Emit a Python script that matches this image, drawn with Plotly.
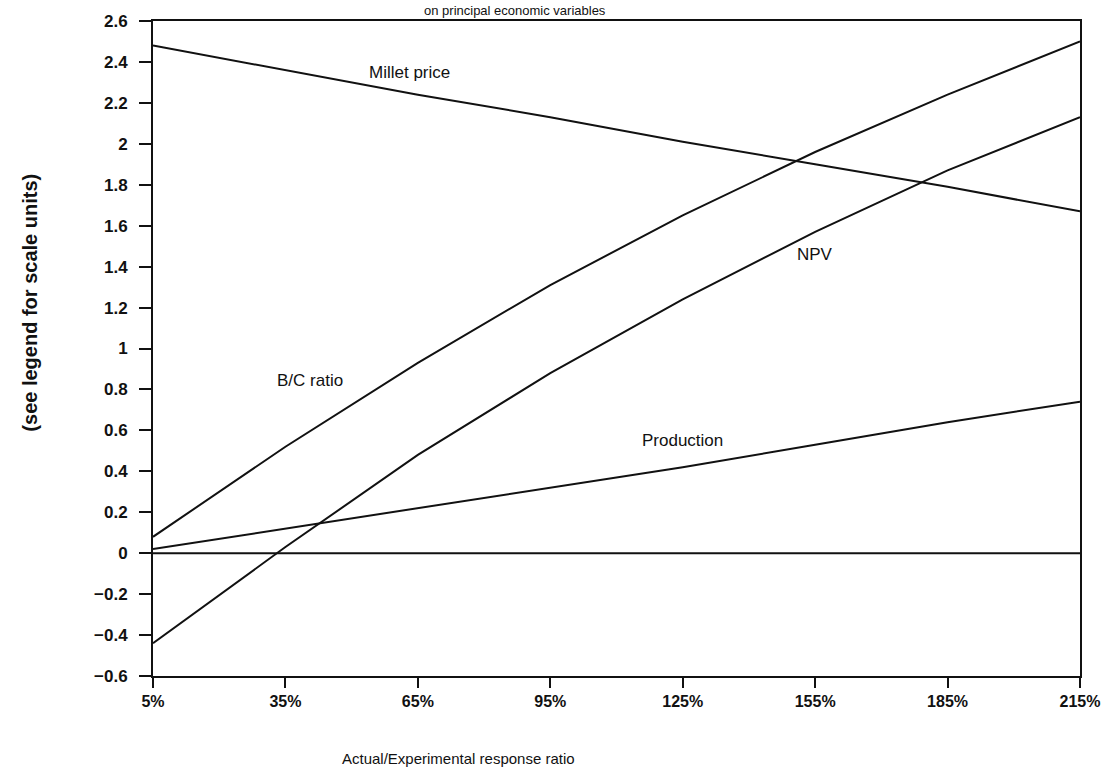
import plotly.graph_objects as go

# Response ratio (Actual/Experimental), in percent
ratio_pct = [5, 35, 65, 95, 125, 155, 185, 215]
ratio_labels = ["5%", "35%", "65%", "95%", "125%", "155%", "185%", "215%"]

# Principal economic variables (see legend for scale units)
millet_price = [2.48, 2.36, 2.24, 2.13, 2.01, 1.90, 1.79, 1.67]
bc_ratio = [0.08, 0.52, 0.93, 1.31, 1.65, 1.96, 2.24, 2.50]
npv = [-0.44, 0.03, 0.48, 0.88, 1.24, 1.57, 1.87, 2.13]
production = [0.02, 0.12, 0.22, 0.32, 0.42, 0.53, 0.64, 0.74]

y_ticks = [2.6, 2.4, 2.2, 2.0, 1.8, 1.6, 1.4, 1.2, 1.0, 0.8, 0.6, 0.4, 0.2,
           0.0, -0.2, -0.4, -0.6]
y_tick_labels = ["2.6", "2.4", "2.2", "2", "1.8", "1.6", "1.4", "1.2", "1",
                 "0.8", "0.6", "0.4", "0.2", "0", "\u22120.2", "\u22120.4",
                 "\u22120.6"]

# Curve labels: (text, x, y)
curve_labels = [
    ("Millet price", 63, 2.35),
    ("B/C ratio", 40.5, 0.845),
    ("NPV", 155, 1.46),
    ("Production", 125, 0.55),
]

FONT = "Liberation Sans"
INK = "#111111"

fig = go.Figure()

for series in (millet_price, bc_ratio, npv, production):
    fig.add_trace(go.Scatter(
        x=ratio_pct, y=series, mode="lines",
        line=dict(color=INK, width=2), showlegend=False, hoverinfo="skip",
    ))

# Zero reference line across the plot
fig.add_trace(go.Scatter(
    x=[ratio_pct[0], ratio_pct[-1]], y=[0, 0], mode="lines",
    line=dict(color=INK, width=2), showlegend=False, hoverinfo="skip",
))

for text, x, y in curve_labels:
    fig.add_annotation(
        x=x, y=y, text=text, showarrow=False,
        font=dict(family=FONT, size=17, color=INK),
    )

# Title, squeezed into the strip above the frame
fig.add_annotation(
    xref="paper", yref="paper", x=0.39, y=1.0, xanchor="center",
    yanchor="bottom", yshift=2, borderpad=0,
    text="on principal economic variables", showarrow=False,
    font=dict(family=FONT, size=13, color=INK),
)

# Axis titles
fig.add_annotation(
    xref="paper", yref="paper", x=0.33, y=0, xanchor="center",
    yanchor="top", yshift=-72,
    text="Actual/Experimental response ratio", showarrow=False,
    font=dict(family=FONT, size=15, color=INK),
)
fig.add_annotation(
    xref="paper", yref="paper", x=0, y=0.57, xanchor="center", xshift=-123,
    text="(see legend for scale units)", textangle=-90, showarrow=False,
    font=dict(family=FONT, size=20, color=INK, weight="bold"),
)

fig.update_layout(
    width=1112, height=769,
    margin=dict(l=153, r=27, t=20, b=93),
    paper_bgcolor="white", plot_bgcolor="white",
    font=dict(family=FONT, color=INK),
    xaxis=dict(
        range=[5, 215], tickmode="array", tickvals=ratio_pct,
        ticktext=ratio_labels, ticks="outside", ticklen=10, tickwidth=1.5,
        tickcolor=INK, showline=True, linecolor=INK, linewidth=2,
        mirror=True, showgrid=False, zeroline=False,
        tickfont=dict(family=FONT, size=16, color=INK, weight="bold"),
    ),
    yaxis=dict(
        range=[-0.6, 2.6], tickmode="array", tickvals=y_ticks,
        ticktext=y_tick_labels, ticks="outside", ticklen=12, tickwidth=1.5,
        tickcolor=INK, showline=True, linecolor=INK, linewidth=2,
        mirror=True, showgrid=False, zeroline=False, ticklabelstandoff=8,
        tickfont=dict(family=FONT, size=17, color=INK, weight="bold"),
    ),
)

fig.write_html("out.html")
